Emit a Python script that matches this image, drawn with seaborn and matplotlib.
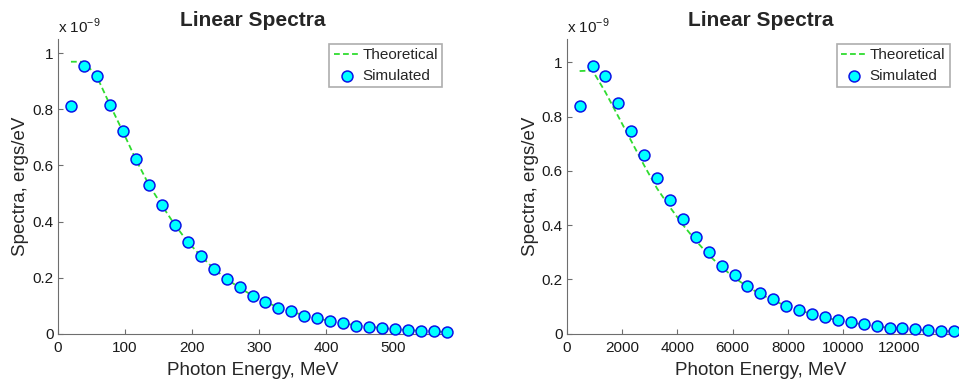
import matplotlib
matplotlib.use("Agg")
import matplotlib.pyplot as plt
import seaborn as sns
import pandas as pd

# ---------------- data (values in units of 1e-9 ergs/eV) ----------------
energy_left = [19.3, 38.7, 58.0, 77.3, 96.7, 116.0, 135.3, 154.7, 174.0, 193.3,
               212.7, 232.0, 251.3, 270.7, 290.0, 309.3, 328.7, 348.0, 367.3, 386.7,
               406.0, 425.3, 444.7, 464.0, 483.3, 502.7, 522.0, 541.3, 560.7, 580.0]
sim_left = [0.813, 0.956, 0.919, 0.817, 0.723, 0.623, 0.531, 0.459, 0.388, 0.327,
            0.278, 0.232, 0.194, 0.165, 0.136, 0.113, 0.092, 0.082, 0.062, 0.055,
            0.044, 0.037, 0.029, 0.025, 0.020, 0.016, 0.013, 0.010, 0.008, 0.006]
theo_left = [0.970, 0.970, 0.917, 0.817, 0.721, 0.622, 0.532, 0.458, 0.389, 0.328,
             0.278, 0.233, 0.195, 0.164, 0.136, 0.113, 0.094, 0.080, 0.064, 0.055,
             0.045, 0.037, 0.030, 0.025, 0.020, 0.016, 0.013, 0.010, 0.008, 0.006]

energy_right = [467, 933, 1400, 1867, 2333, 2800, 3267, 3733, 4200, 4667,
                5133, 5600, 6067, 6533, 7000, 7467, 7933, 8400, 8867, 9333,
                9800, 10267, 10733, 11200, 11667, 12133, 12600, 13067, 13533, 14000]
sim_right = [0.840, 0.988, 0.948, 0.849, 0.748, 0.660, 0.572, 0.491, 0.421, 0.355,
             0.300, 0.248, 0.216, 0.175, 0.150, 0.127, 0.103, 0.088, 0.074, 0.061,
             0.050, 0.042, 0.036, 0.027, 0.021, 0.020, 0.016, 0.012, 0.010, 0.009]
theo_right = [0.968, 0.970, 0.890, 0.800, 0.710, 0.620, 0.535, 0.466, 0.401, 0.343,
              0.290, 0.245, 0.206, 0.173, 0.146, 0.123, 0.102, 0.087, 0.072, 0.060,
              0.049, 0.041, 0.034, 0.027, 0.022, 0.018, 0.015, 0.012, 0.010, 0.008]

xticks_left = [0, 100, 200, 300, 400, 500]
xticks_right = [0, 2000, 4000, 6000, 8000, 10000, 12000]
yticks = [0, 0.2, 0.4, 0.6, 0.8, 1.0]
ytick_labels = ["0", "0.2", "0.4", "0.6", "0.8", "1"]

title_text = "Linear Spectra"
xlabel_text = "Photon Energy, MeV"
ylabel_text = "Spectra, ergs/eV"
series_names = ["Theoretical", "Simulated"]

# ---------------- style ----------------
sns.set_style("ticks")
plt.rcParams["font.family"] = ["Liberation Sans", "DejaVu Sans"]
plt.rcParams["axes.edgecolor"] = "#6e6e6e"
plt.rcParams["xtick.color"] = "#6e6e6e"
plt.rcParams["ytick.color"] = "#6e6e6e"
plt.rcParams["xtick.labelcolor"] = "#1a1a1a"
plt.rcParams["ytick.labelcolor"] = "#1a1a1a"

GREEN = "#2fdc2f"
CYAN = "#00ffff"
BLUE = "#0a14e6"

fig = plt.figure(figsize=(9.59, 3.84), dpi=100)
W, H = 959, 384
ax_l = fig.add_axes([58 / W, 50.3 / H, 389 / W, 294.4 / H])
ax_r = fig.add_axes([566.7 / W, 50.3 / H, 387.4 / W, 294.4 / H])

panels = [
    (ax_l, energy_left, sim_left, theo_left, (0, 580), 1.05, xticks_left),
    (ax_r, energy_right, sim_right, theo_right, (0, 14000), 1.085, xticks_right),
]

for ax, ex, sim, theo, xlim, ytop, xt in panels:
    df_t = pd.DataFrame({"E": ex, "S": theo, "series": series_names[0]})
    df_s = pd.DataFrame({"E": ex, "S": sim, "series": series_names[1]})
    sns.lineplot(data=df_t, x="E", y="S", ax=ax, color=GREEN, linewidth=1.3,
                 linestyle=(0, (3.2, 1.8)), label=series_names[0], zorder=2)
    sns.scatterplot(data=df_s, x="E", y="S", ax=ax, color=CYAN, edgecolor=BLUE,
                    linewidth=1.1, s=62, label=series_names[1], zorder=3,
                    clip_on=False)
    ax.set_xlim(*xlim)
    ax.set_ylim(0, ytop)
    ax.set_xticks(xt)
    ax.set_xticklabels([str(v) for v in xt])
    ax.set_yticks(yticks)
    ax.set_yticklabels(ytick_labels)
    ax.tick_params(direction="in", length=3.5, width=0.8, labelsize=11)
    ax.tick_params(axis="x", pad=5.5)
    ax.tick_params(axis="y", pad=3)
    for side in ("top", "right"):
        ax.spines[side].set_visible(False)
    for side in ("left", "bottom"):
        ax.spines[side].set_linewidth(0.8)
    ax.set_title(title_text, fontsize=15, fontweight="bold", pad=9.5)
    ax.set_xlabel(xlabel_text, fontsize=13.5)
    ax.set_ylabel(ylabel_text, fontsize=13.5)
    ax.xaxis.set_label_coords(0.5, -0.095)
    ax.yaxis.set_label_coords(-0.074 if ax is ax_l else -0.072, 0.5)
    ax.text(0.0, 1.02, r"x 10$^{\mathregular{-9}}$", transform=ax.transAxes,
            fontsize=11, ha="left", va="baseline", color="#1a1a1a")
    leg = ax.legend(loc="upper right", bbox_to_anchor=(1.0, 1.0), fontsize=11,
                    frameon=True, fancybox=False, edgecolor="#9a9a9a",
                    borderaxespad=0.3, handlelength=1.65, handletextpad=0.2,
                    labelspacing=0.4, borderpad=0.3)
    leg.get_frame().set_linewidth(1.2)

fig.savefig("out.png", dpi=100)
